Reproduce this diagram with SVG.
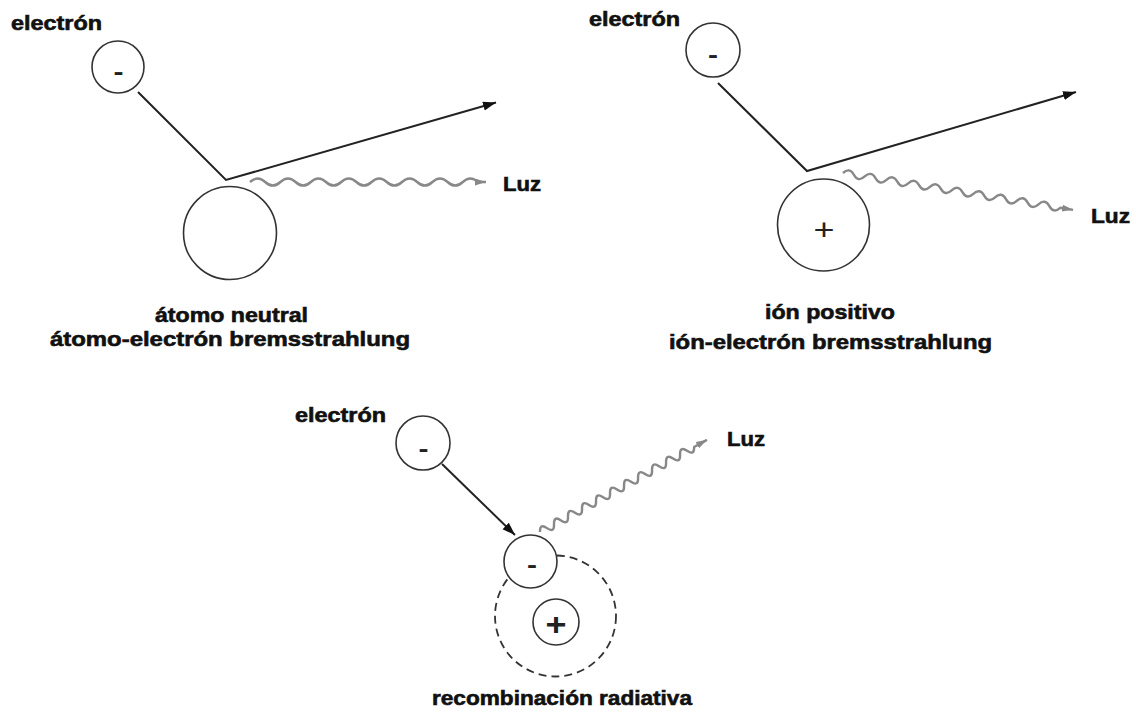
<svg xmlns="http://www.w3.org/2000/svg" width="1136" height="712" viewBox="0 0 1136 712">
<style>
  .lbl { font-family: "Liberation Sans", Arial, sans-serif; font-weight: bold; font-size: 20px; fill: #111; stroke: #111; stroke-width: 0.6; }
  .sign { font-family: "Liberation Sans", Arial, sans-serif; fill: #222; text-anchor: middle; }
  .particle { fill: #fff; stroke: #333; stroke-width: 1.6; }
  .orbit { fill: none; stroke: #333; stroke-width: 1.8; stroke-dasharray: 8 5; }
  .path { fill: none; stroke: #222; stroke-width: 2; stroke-linejoin: miter; }
  .wave { fill: none; stroke: #888; stroke-width: 2.4; stroke-linejoin: round; }
</style>
<defs>
  <marker id="arrowBlack" markerUnits="userSpaceOnUse" markerWidth="14" markerHeight="10" refX="13" refY="4.5" orient="auto">
    <path d="M0,0 L13,4.5 L0,9 z" fill="#111"/>
  </marker>
  <marker id="arrowGray" markerUnits="userSpaceOnUse" markerWidth="12" markerHeight="8" refX="11" refY="3.5" orient="auto">
    <path d="M0,0 L11,3.5 L0,7 z" fill="#888"/>
  </marker>
</defs>
<rect width="1136" height="712" fill="#fff"/>

<g id="connectors">
  <path class="path" d="M138,92 L226,180 L496,102.5" marker-end="url(#arrowBlack)"/>
  <path class="path" d="M718,83 L807,171 L1076,92" marker-end="url(#arrowBlack)"/>
  <path class="path" d="M442,464 L515,535" marker-end="url(#arrowBlack)"/>
  <path class="wave" d="M250,182 q7.6,-7 15.2,0 t15.2,0 t15.2,0 t15.2,0 t15.2,0 t15.2,0 t15.2,0 t15.2,0 t15.2,0 t15.2,0 t15.2,0 t15.2,0 t15.2,0 t15.2,0 t15.2,0 l8,0" marker-end="url(#arrowGray)"/>
  <g transform="translate(843,173) rotate(9.1)">
    <path class="wave" d="M0,0 q5.5,-7 11,0 t11,0 t11,0 t11,0 t11,0 t11,0 t11,0 t11,0 t11,0 t11,0 t11,0 t11,0 t11,0 t11,0 t11,0 t11,0 t11,0 t11,0 t11,0 t11,0 l13,0" marker-end="url(#arrowGray)"/>
  </g>
  <g transform="translate(540,532) rotate(-28.9)">
    <path class="wave" d="M0,0 q4,-8 8,0 t8,0 t8,0 t8,0 t8,0 t8,0 t8,0 t8,0 t8,0 t8,0 t8,0 t8,0 t8,0 t8,0 t8,0 t8,0 t8,0 t8,0 t8,0 t8,0 t8,0 t8,0 l14.7,0" marker-end="url(#arrowGray)"/>
  </g>
</g>

<g id="tl-electron">
  <circle class="particle" cx="118" cy="67" r="26"/>
  <text class="sign" x="118.5" y="80" font-size="24" font-weight="bold" textLength="10" lengthAdjust="spacingAndGlyphs">-</text>
</g>
<g id="tl-atom">
  <circle class="particle" cx="230" cy="233" r="46.5"/>
</g>
<g id="tl-labels">
  <text class="lbl" x="11" y="30" textLength="91" lengthAdjust="spacingAndGlyphs">electrón</text>
  <text class="lbl" x="503" y="191" textLength="38" lengthAdjust="spacingAndGlyphs">Luz</text>
  <text class="lbl" x="155" y="322" textLength="153" lengthAdjust="spacingAndGlyphs">átomo neutral</text>
  <text class="lbl" x="50" y="346" textLength="360" lengthAdjust="spacingAndGlyphs">átomo-electrón bremsstrahlung</text>
</g>

<g id="tr-electron">
  <circle class="particle" cx="713" cy="50" r="27"/>
  <text class="sign" x="713" y="63" font-size="24" font-weight="bold" textLength="10" lengthAdjust="spacingAndGlyphs">-</text>
</g>
<g id="tr-ion">
  <circle class="particle" cx="823.5" cy="225" r="46"/>
  <text class="sign" x="824" y="239.5" font-size="30" textLength="21" lengthAdjust="spacingAndGlyphs">+</text>
</g>
<g id="tr-labels">
  <text class="lbl" x="589" y="26" textLength="91" lengthAdjust="spacingAndGlyphs">electrón</text>
  <text class="lbl" x="1091" y="223" textLength="39" lengthAdjust="spacingAndGlyphs">Luz</text>
  <text class="lbl" x="765" y="319" textLength="130" lengthAdjust="spacingAndGlyphs">ión positivo</text>
  <text class="lbl" x="669" y="349" textLength="323" lengthAdjust="spacingAndGlyphs">ión-electrón bremsstrahlung</text>
</g>

<g id="b-electron">
  <circle class="particle" cx="423" cy="443" r="27"/>
  <text class="sign" x="423.5" y="457" font-size="24" font-weight="bold" textLength="10" lengthAdjust="spacingAndGlyphs">-</text>
</g>
<g id="b-orbit">
  <circle class="orbit" cx="555.5" cy="616" r="60.5"/>
</g>
<g id="b-bound-electron">
  <circle class="particle" cx="530.5" cy="561.5" r="26.5"/>
  <text class="sign" x="532" y="573" font-size="24" font-weight="bold" textLength="10" lengthAdjust="spacingAndGlyphs">-</text>
</g>
<g id="b-ion">
  <circle class="particle" cx="556" cy="622" r="23"/>
  <text class="sign" x="556" y="634.5" font-size="32" font-weight="bold" textLength="21" lengthAdjust="spacingAndGlyphs">+</text>
</g>
<g id="b-labels">
  <text class="lbl" x="295" y="422" textLength="91" lengthAdjust="spacingAndGlyphs">electrón</text>
  <text class="lbl" x="727" y="446" textLength="38" lengthAdjust="spacingAndGlyphs">Luz</text>
  <text class="lbl" x="432" y="705" textLength="260" lengthAdjust="spacingAndGlyphs">recombinación radiativa</text>
</g>
</svg>
